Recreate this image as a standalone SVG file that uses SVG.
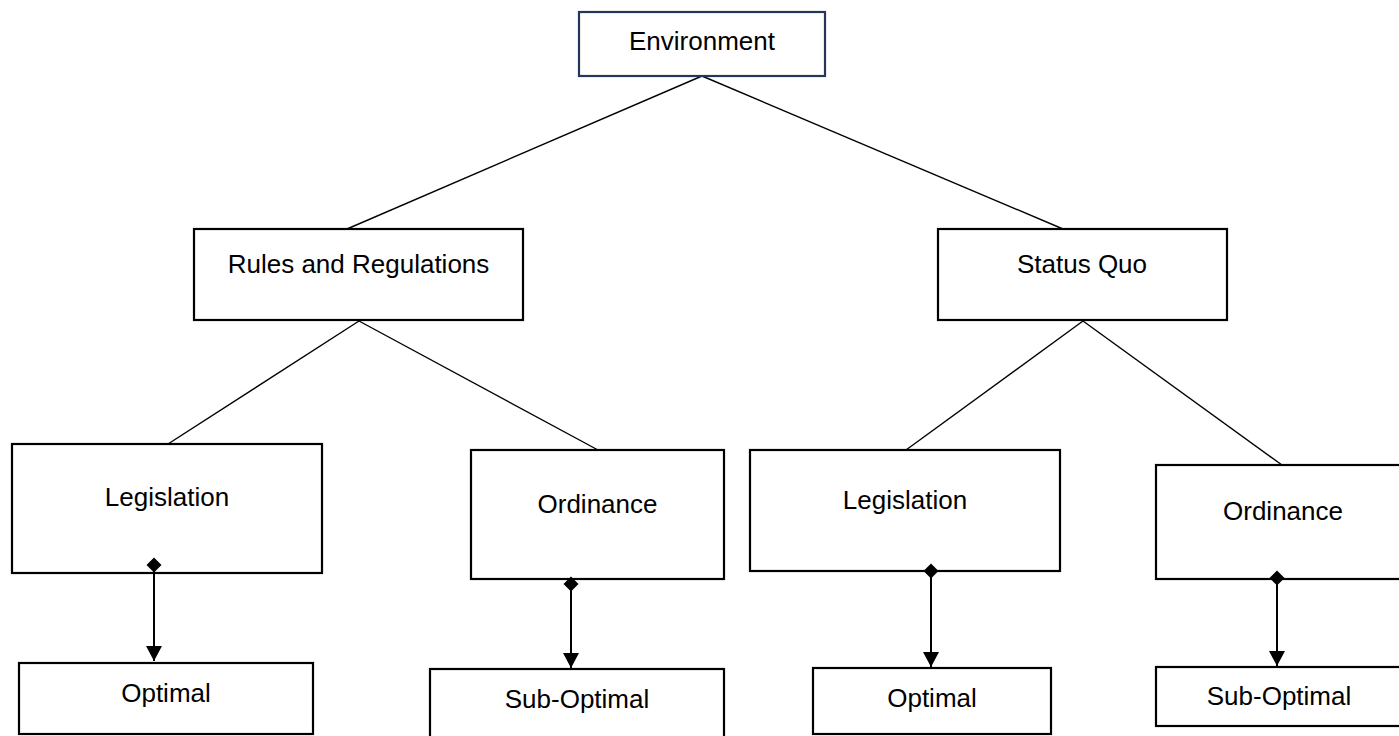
<svg xmlns="http://www.w3.org/2000/svg" width="1399" height="736" viewBox="0 0 1399 736">
<style>
.box{fill:#fff;stroke:#000;stroke-width:2.2}
.env{fill:#fff;stroke:#24365c;stroke-width:2.2}
.t{font-family:"Liberation Sans",Arial,sans-serif;font-size:26px;fill:#000;text-anchor:middle}
.thin{stroke:#000;stroke-width:1.4;fill:none}
.arr{stroke:#000;stroke-width:2;fill:none;marker-start:url(#dia);marker-end:url(#tri)}
</style>
<defs>
<marker id="dia" markerUnits="userSpaceOnUse" markerWidth="16" markerHeight="16" viewBox="-8 -8 16 16" refX="0" refY="0" orient="auto">
<path d="M-7.5 0L0 -7.5L7.5 0L0 7.5Z" fill="#000"/>
</marker>
<marker id="tri" markerUnits="userSpaceOnUse" markerWidth="16" markerHeight="18" viewBox="0 -9 16 18" refX="15" refY="0" orient="auto">
<path d="M0 -8L15 0L0 8Z" fill="#000"/>
</marker>
</defs>
<rect width="1399" height="736" fill="#fff"/>
<g id="connectors">
<line class="thin" x1="702" y1="76" x2="347" y2="229"/>
<line class="thin" x1="702" y1="76" x2="1063" y2="229"/>
<line class="thin" x1="359" y1="321" x2="168" y2="444"/>
<line class="thin" x1="359" y1="321" x2="598" y2="450"/>
<line class="thin" x1="1083" y1="321" x2="906" y2="450"/>
<line class="thin" x1="1083" y1="321" x2="1282" y2="465"/>
</g>
<g id="environment"><rect class="env" x="579" y="12" width="246" height="64"/><text class="t" x="702" y="50">Environment</text></g>
<g id="rules"><rect class="box" x="194" y="229" width="329" height="91"/><text class="t" x="358.5" y="273">Rules and Regulations</text></g>
<g id="statusquo"><rect class="box" x="938" y="229" width="289" height="91"/><text class="t" x="1082" y="273">Status Quo</text></g>
<g id="legislation1"><rect class="box" x="12" y="444" width="310" height="129"/><text class="t" x="167" y="506">Legislation</text></g>
<g id="ordinance1"><rect class="box" x="471" y="450" width="253" height="129"/><text class="t" x="597.5" y="513">Ordinance</text></g>
<g id="legislation2"><rect class="box" x="750" y="450" width="310" height="121"/><text class="t" x="905" y="509">Legislation</text></g>
<g id="ordinance2"><rect class="box" x="1156" y="465" width="256" height="114"/><text class="t" x="1283" y="520">Ordinance</text></g>
<g id="optimal1"><rect class="box" x="19" y="663" width="294" height="71"/><text class="t" x="166" y="702">Optimal</text></g>
<g id="suboptimal1"><rect class="box" x="430" y="669" width="294" height="75"/><text class="t" x="577" y="708">Sub-Optimal</text></g>
<g id="optimal2"><rect class="box" x="813" y="668" width="238" height="66"/><text class="t" x="932" y="707">Optimal</text></g>
<g id="suboptimal2"><rect class="box" x="1156" y="667" width="248" height="59"/><text class="t" x="1279" y="705">Sub-Optimal</text></g>
<g id="arrows">
<line class="arr" x1="154" y1="565" x2="154" y2="661"/>
<line class="arr" x1="571" y1="584" x2="571" y2="668"/>
<line class="arr" x1="931" y1="571" x2="931" y2="667"/>
<line class="arr" x1="1277" y1="578" x2="1277" y2="666"/>
</g>
</svg>
